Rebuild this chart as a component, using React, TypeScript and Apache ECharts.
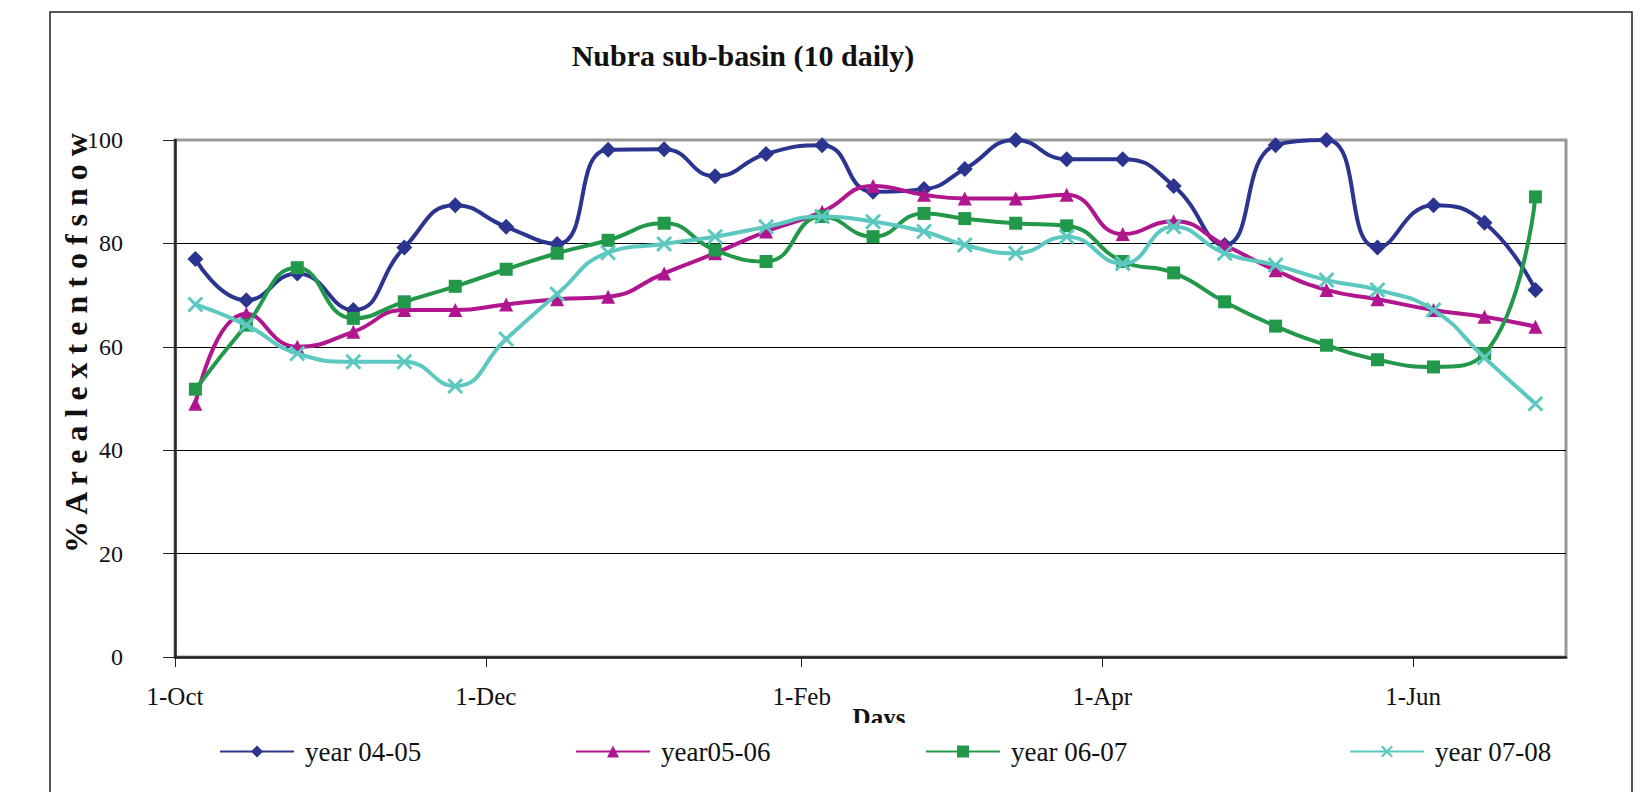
import React, { useEffect, useRef } from "react";
import * as echarts from "echarts";

// 10-daily observation dates (season Oct -> Jun)
const dates = [
  "5-Oct", "15-Oct", "25-Oct", "5-Nov", "15-Nov", "25-Nov", "5-Dec", "15-Dec", "25-Dec",
  "5-Jan", "15-Jan", "25-Jan", "5-Feb", "15-Feb", "25-Feb", "5-Mar", "15-Mar", "25-Mar",
  "5-Apr", "15-Apr", "25-Apr", "5-May", "15-May", "25-May", "5-Jun", "15-Jun", "25-Jun",
];

const year0405 = [77, 69, 74.2, 67.1, 79.2, 87.4, 83.2, 79.9, 98.1, 98.2, 93.0, 97.3, 99.0, 90.0, 90.5, 94.4, 100, 96.3, 96.3, 91.1, 79.7, 99.0, 100, 79.2, 87.4, 84.0, 71.0];
const year0506 = [49, 66.4, 60.0, 62.9, 67.1, 67.1, 68.2, 69.2, 69.7, 74.2, 78.1, 82.3, 86.1, 91.1, 89.4, 88.7, 88.7, 89.4, 81.8, 84.3, 79.7, 74.8, 71.0, 69.2, 67.1, 65.8, 63.9];
const year0607 = [51.8, 64.2, 75.3, 65.5, 68.7, 71.7, 75.0, 78.1, 80.6, 83.9, 78.7, 76.5, 85.2, 81.3, 85.8, 84.8, 83.9, 83.4, 76.5, 74.3, 68.7, 64.0, 60.3, 57.5, 56.1, 58.7, 89.0];
const year0708 = [68.2, 64.2, 58.7, 57.1, 57.1, 52.4, 61.5, 70.2, 78.2, 79.9, 81.3, 83.2, 85.2, 84.2, 82.3, 79.7, 78.1, 81.3, 76.1, 83.2, 78.1, 75.8, 72.9, 71.0, 67.1, 57.9, 49.0];

const seriesNames = ["year 04-05", "year05-06", "year 06-07", "year 07-08"];
const tickLabels = ["1-Oct", "1-Dec", "1-Feb", "1-Apr", "1-Jun"];
const axisStart = "1-Oct";
const axisEnd = "1-Jul";
const yTicks = [0, 20, 40, 60, 80, 100];

const MONTHS = ["Jan", "Feb", "Mar", "Apr", "May", "Jun", "Jul", "Aug", "Sep", "Oct", "Nov", "Dec"];
function dayOf(label: string): number {
  const [d, m] = label.split("-");
  const mi = MONTHS.indexOf(m);
  const y = mi >= 9 ? 2005 : 2006;
  return (Date.UTC(y, mi, Number(d)) - Date.UTC(2005, 9, 1)) / 86400000;
}

const COLORS = ["#2B3590", "#B0168E", "#22994A", "#5CC8C0"];
const SYMBOLS = [
  "diamond",
  "triangle",
  "rect",
  "path://M0,1.3 L1.3,0 L5,3.7 L8.7,0 L10,1.3 L6.3,5 L10,8.7 L8.7,10 L5,6.3 L1.3,10 L0,8.7 L3.7,5 Z",
];
const SIZES = [16, 14, 13, 16];
const SERIF = "'Liberation Serif', 'Times New Roman', serif";

export default function App() {
  const ref = useRef<HTMLDivElement>(null);
  useEffect(() => {
    if (!ref.current) return;
    const chart = echarts.init(ref.current, undefined, { renderer: "svg" });
    const values = [year0405, year0506, year0607, year0708];
    const tickDays = tickLabels.map(dayOf);
    const labelByDay: Record<number, string> = {};
    tickDays.forEach((d, i) => (labelByDay[d] = tickLabels[i]));
    const legendLefts = [214, 570, 920, 1344];

    const option: any = {
      animation: false,
      backgroundColor: "#fff",
      grid: {
        left: 175,
        right: 77,
        top: 140,
        bottom: 135,
        show: true,
        borderColor: "#999",
        borderWidth: 3,
        backgroundColor: "#fff",
      },
      xAxis: {
        type: "value",
        min: dayOf(axisStart),
        max: dayOf(axisEnd),
        axisLine: { show: true, onZero: false, lineStyle: { color: "#222", width: 2.5 } },
        axisTick: { show: true, customValues: tickDays, length: 10, inside: false, lineStyle: { color: "#222", width: 1 } },
        axisLabel: {
          customValues: tickDays,
          formatter: (v: number) => labelByDay[v] ?? "",
          fontFamily: SERIF,
          fontSize: 25,
          color: "#111",
          margin: 27,
        },
        splitLine: { show: false },
      },
      yAxis: {
        type: "value",
        min: yTicks[0],
        max: yTicks[yTicks.length - 1],
        interval: 20,
        axisLine: { show: true, lineStyle: { color: "#222", width: 2.5 } },
        axisTick: { show: true, length: 12, lineStyle: { color: "#222", width: 1 } },
        axisLabel: { fontFamily: SERIF, fontSize: 24, color: "#111", margin: 52 },
        splitLine: { show: true, lineStyle: { color: ["#000", "#000", "#000", "#000", "#000", "#999"], width: 1 } },
      },
      legend: seriesNames.map((n, i) => ({
        data: [n],
        left: legendLefts[i],
        top: 733,
        itemWidth: 74,
        itemHeight: 15,
        z: 10,
        textStyle: { fontFamily: SERIF, fontSize: 27, color: "#111", padding: [0, 0, 0, 6] },
      })),
      graphic: [
        {
          type: "rect",
          shape: { x: 50, y: 12, width: 1582, height: 790 },
          style: { fill: "none", stroke: "#222", lineWidth: 1.5 },
          z: 0,
          silent: true,
        },
        {
          type: "text",
          x: 743,
          y: 55,
          style: {
            text: "Nubra sub-basin (10 daily)",
            font: `bold 30px ${SERIF}`,
            fill: "#111",
            align: "center",
            verticalAlign: "middle",
          },
        },
        {
          type: "text",
          x: 76,
          y: 343,
          rotation: Math.PI / 2,
          style: {
            text: "% A r e a l e x t e n t o f s n o w",
            font: `bold 32px ${SERIF}`,
            fill: "#111",
            align: "center",
            verticalAlign: "middle",
          },
        },
        {
          type: "text",
          x: 879,
          y: 717,
          z: 3,
          style: {
            text: "Days",
            font: `bold 25px ${SERIF}`,
            fill: "#111",
            align: "center",
            verticalAlign: "middle",
          },
        },
        {
          type: "rect",
          z: 5,
          shape: { x: 820, y: 723, width: 120, height: 30 },
          style: { fill: "#fff" },
          silent: true,
        },
      ],
      series: seriesNames.map((n, i) => ({
        name: n,
        type: "line",
        smooth: 0.5,
        symbol: SYMBOLS[i],
        symbolSize: SIZES[i],
        showAllSymbol: true,
        z: 2 + i,
        itemStyle: { color: COLORS[i] },
        lineStyle: { color: COLORS[i], width: 4 },
        data: dates.map((d, j) => [dayOf(d), values[i][j]]),
      })),
    };
    chart.setOption(option);
    return () => chart.dispose();
  }, []);
  return (
    <div
      ref={ref}
      style={{ position: "fixed", left: 0, top: 0, width: 1643, height: 792, background: "#fff" }}
    />
  );
}
